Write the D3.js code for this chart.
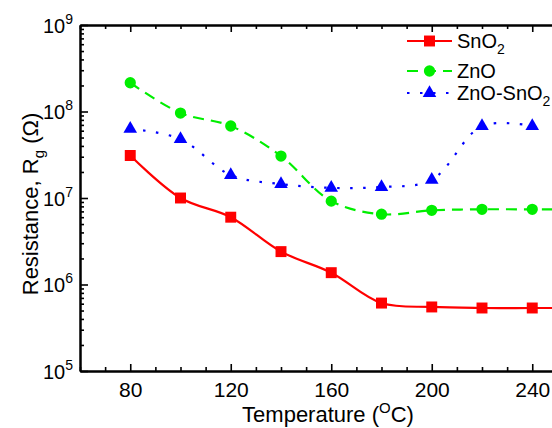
<!DOCTYPE html>
<html>
<head>
<meta charset="utf-8">
<script src="https://d3js.org/d3.v7.min.js"></script>
<style>
  body { margin: 0; background: #fff; }
  svg { display: block; font-family: Arial, "Liberation Sans", sans-serif; }
</style>
</head>
<body>
<div id="chart"></div>
<script>
// Data
const temps = [80, 100, 120, 140, 160, 180, 200, 220, 240, 260];
const sno2 = [3.1e7, 1.0e7, 6.0e6, 2.4e6, 1.37e6, 6.1e5, 5.5e5, 5.35e5, 5.35e5, 5.35e5];
const zno = [2.15e8, 9.6e7, 6.8e7, 3.05e7, 9.2e6, 6.5e6, 7.2e6, 7.4e6, 7.4e6, 7.4e6];
const znoSno2 = [6.3e7, 4.8e7, 1.84e7, 1.45e7, 1.31e7, 1.34e7, 1.62e7, 6.8e7, 6.8e7];
const markerTemps = [80, 100, 120, 140, 160, 180, 200, 220, 240];
const xMajorTicks = [80, 120, 160, 200, 240];
const yDecades = [5, 6, 7, 8, 9];

const W = 552, H = 428;
const margin = {top: 25, left: 80, bottom: 57};
const x = d3.scaleLinear().domain([60, 260]).range([margin.left, 582.5]);
const y = d3.scaleLog().domain([1e5, 1e9]).range([H - margin.bottom, margin.top]);

const svg = d3.select("#chart").append("svg")
    .attr("width", W).attr("height", H);

const series = [
  {name: "SnO", sub: "2", vals: sno2, color: "#ff0000", dash: null, shape: d3.symbolSquare, size: 120},
  {name: "ZnO", sub: "", vals: zno, color: "#00ee00", dash: "11,7", shape: d3.symbolCircle, size: 100},
  {name: "ZnO-SnO", sub: "2", vals: znoSno2, color: "#0000ff", dash: "2.5,10.5", shape: d3.symbolTriangle, size: 80}
];

const line = d3.line()
    .x(d => x(d[0]))
    .y(d => y(d[1]))
    .curve(d3.curveCatmullRom.alpha(0.5));

const plot = svg.append("g");
series.forEach(s => {
  const pts = s.vals.map((v, i) => [temps[i], v]);
  plot.append("path")
      .datum(pts)
      .attr("d", line)
      .attr("fill", "none")
      .attr("stroke", s.color)
      .attr("stroke-width", 2.2)
      .attr("stroke-dasharray", s.dash);
  plot.selectAll(null)
      .data(pts.filter(p => markerTemps.includes(p[0])))
      .join("path")
      .attr("transform", p => `translate(${x(p[0])},${y(p[1])})`)
      .attr("d", d3.symbol().type(s.shape).size(s.size))
      .attr("fill", s.color);
});

// axes
const xMinor = d3.range(60, 261, 10).filter(v => !xMajorTicks.includes(v));
const yMinor = [];
yDecades.slice(0, -1).forEach(d => { for (let k = 2; k <= 9; k++) yMinor.push(k * Math.pow(10, d)); });
const yMajor = yDecades.map(d => Math.pow(10, d));

function styleAxis(g) {
  g.select(".domain").attr("stroke", "#000").attr("stroke-width", 2);
  g.selectAll(".tick line").attr("stroke", "#000").attr("stroke-width", 1.6);
}

const yBottom = H - margin.bottom;
// bottom
svg.append("g").attr("transform", `translate(0,${yBottom})`)
    .call(d3.axisBottom(x).tickValues(xMinor).tickSize(-4).tickSizeOuter(0).tickFormat(""))
    .call(styleAxis);
svg.append("g").attr("transform", `translate(0,${yBottom})`)
    .call(d3.axisBottom(x).tickValues(xMajorTicks).tickSize(-7).tickSizeOuter(0).tickPadding(11).tickFormat(d3.format("d")))
    .call(styleAxis)
    .call(g => g.selectAll("text").attr("font-size", 21).attr("fill", "#000").attr("font-family", "Arial, 'Liberation Sans', sans-serif"));
// top
svg.append("g").attr("transform", `translate(0,${margin.top})`)
    .call(d3.axisTop(x).tickValues(xMinor).tickSize(-4).tickSizeOuter(0).tickFormat(""))
    .call(styleAxis);
svg.append("g").attr("transform", `translate(0,${margin.top})`)
    .call(d3.axisTop(x).tickValues(xMajorTicks).tickSize(-7).tickSizeOuter(0).tickFormat(""))
    .call(styleAxis);
// left
svg.append("g").attr("transform", `translate(${margin.left},0)`)
    .call(d3.axisLeft(y).tickValues(yMinor).tickSize(-4).tickSizeOuter(0).tickFormat(""))
    .call(styleAxis);
const yAx = svg.append("g").attr("transform", `translate(${margin.left},0)`)
    .call(d3.axisLeft(y).tickValues(yMajor).tickSize(-8).tickSizeOuter(0).tickFormat(""))
    .call(styleAxis);
yAx.selectAll(".tick").each(function(d) {
  const t = d3.select(this).append("text")
      .attr("x", -7).attr("y", 7)
      .attr("text-anchor", "end")
      .attr("font-size", 20)
      .attr("fill", "#000");
  t.append("tspan").text("10");
  t.append("tspan").attr("dy", -9).attr("font-size", 14).text(Math.round(Math.log10(d)));
});
// right (outside the window)
svg.append("g").attr("transform", `translate(${x(260)},0)`)
    .call(d3.axisRight(y).tickValues(yMajor).tickSize(-8).tickSizeOuter(0).tickFormat(""))
    .call(styleAxis);

// axis titles
const xt = svg.append("text")
    .attr("x", 328).attr("y", 422)
    .attr("text-anchor", "middle").attr("font-size", 22).attr("fill", "#000");
xt.append("tspan").text("Temperature (");
xt.append("tspan").attr("dy", -9).attr("font-size", 15).text("O");
xt.append("tspan").attr("dy", 9).text("C)");

const yt = svg.append("text")
    .attr("transform", "translate(38,204) rotate(-90)")
    .attr("text-anchor", "middle").attr("font-size", 22).attr("fill", "#000");
yt.append("tspan").text("Resistance, R");
yt.append("tspan").attr("dy", 6).attr("font-size", 15).text("g");
yt.append("tspan").attr("dy", -6).text(" (\u03A9)");

// legend
const legY = [41, 71, 93];
series.forEach((s, i) => {
  const g = svg.append("g").attr("transform", `translate(0,${legY[i]})`);
  g.append("line")
      .attr("x1", 407).attr("x2", 452).attr("y1", 0).attr("y2", 0)
      .attr("stroke", s.color).attr("stroke-width", 2.2)
      .attr("stroke-dasharray", s.dash);
  g.append("path")
      .attr("transform", "translate(429.5,0)")
      .attr("d", d3.symbol().type(s.shape).size(s.size))
      .attr("fill", s.color);
  const t = g.append("text").attr("x", 457).attr("y", 7)
      .attr("font-size", 20).attr("fill", "#000");
  t.append("tspan").text(s.name);
  if (s.sub) t.append("tspan").attr("dy", 6).attr("font-size", 14).text(s.sub);
});
</script>
</body>
</html>
